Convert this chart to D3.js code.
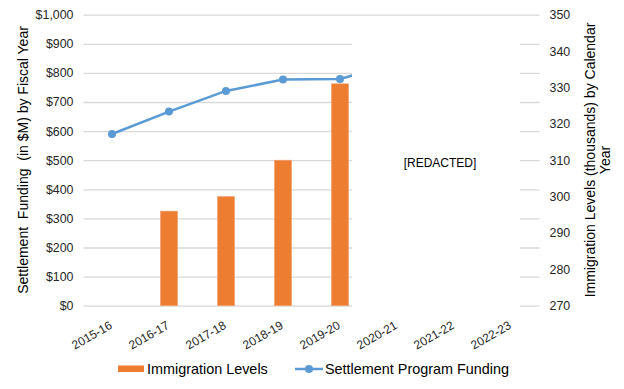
<!DOCTYPE html>
<html>
<head>
<meta charset="utf-8">
<script src="https://cdn.jsdelivr.net/npm/d3@7"></script>
<style>
  html, body { margin: 0; padding: 0; background: #fff; }
  svg { display: block; font-family: "Liberation Sans", Arial, sans-serif; }
</style>
</head>
<body>
<svg id="chart" width="624" height="389"></svg>
<script>
// ---- Data ----
const categories = ["2015-16", "2016-17", "2017-18", "2018-19", "2019-20", "2020-21", "2021-22", "2022-23"];
const immigrationLevels = [null, 296, 300, 310, 331, null, null, null];   // thousands (right axis)
const settlementFunding = [590, 667, 738, 777, 779, 835, null, null];     // $M (left axis)
const leftTicks = [0, 100, 200, 300, 400, 500, 600, 700, 800, 900, 1000];
const rightTicks = [270, 280, 290, 300, 310, 320, 330, 340, 350];
const seriesNames = ["Immigration Levels", "Settlement Program Funding"];

// ---- Layout ----
const svg = d3.select("#chart");
const plotL = 83.5, plotR = 539.5, plotT = 14.7, plotB = 305.7;
const orange = "#ED7D31", blue = "#5B9BD5", textColor = "#262626", gridColor = "#D9D9D9";

const x = d3.scaleBand().domain(categories).range([plotL, plotR]).padding(0);
const yL = d3.scaleLinear().domain([0, 1000]).range([plotB, plotT]);
const yR = d3.scaleLinear().domain([270, 350]).range([plotB, plotT]);

// gridlines + left axis
const gL = svg.append("g").attr("transform", `translate(${plotL},0)`)
  .call(d3.axisLeft(yL).tickValues(leftTicks).tickFormat(d3.format("$,")).tickSize(-(plotR - plotL)).tickPadding(10));
gL.select(".domain").remove();
gL.selectAll(".tick line").attr("stroke", gridColor).attr("stroke-width", 1.3);
gL.selectAll(".tick text").attr("fill", textColor).style("font-size", "12.4px");

// right axis
const gR = svg.append("g").attr("transform", `translate(${plotR},0)`)
  .call(d3.axisRight(yR).tickValues(rightTicks).tickSize(0).tickPadding(10));
gR.select(".domain").remove();
gR.selectAll(".tick text").attr("fill", textColor).style("font-size", "12.4px");

// x axis labels
const gX = svg.append("g").attr("transform", `translate(0,${plotB})`)
  .call(d3.axisBottom(x).tickSize(0).tickPadding(0));
gX.select(".domain").remove();
gX.selectAll(".tick text")
  .attr("fill", textColor).style("font-size", "12px")
  .attr("text-anchor", "end")
  .attr("dy", null)
  .attr("transform", "translate(1,22) rotate(-30)");

// bars
const barW = x.bandwidth() * 0.3;
svg.append("g").selectAll("rect")
  .data(categories.map((c, i) => ({ c, v: immigrationLevels[i] })).filter(d => d.v != null))
  .join("rect")
  .attr("x", d => x(d.c) + x.bandwidth() / 2 - barW / 2)
  .attr("width", barW)
  .attr("y", d => yR(d.v))
  .attr("height", d => plotB - yR(d.v))
  .attr("fill", orange)
  .attr("stroke", "#F4A070").attr("stroke-width", 0.6);

// line
const lineData = categories.map((c, i) => ({ c, v: settlementFunding[i] })).filter(d => d.v != null);
svg.append("path")
  .datum(lineData)
  .attr("fill", "none").attr("stroke", blue).attr("stroke-width", 2.5)
  .attr("d", d3.line().x(d => x(d.c) + x.bandwidth() / 2).y(d => yL(d.v)));
svg.append("g").selectAll("circle")
  .data(lineData).join("circle")
  .attr("cx", d => x(d.c) + x.bandwidth() / 2)
  .attr("cy", d => yL(d.v))
  .attr("r", 4).attr("fill", blue);

// redaction box
svg.append("rect").attr("x", 352).attr("y", 16.5).attr("width", 168).attr("height", 292).attr("fill", "#fff");
svg.append("text").attr("x", 440).attr("y", 167).attr("text-anchor", "middle")
  .style("font-size", "12px").attr("fill", "#000").text("[REDACTED]");

// axis titles
svg.append("text")
  .attr("transform", `translate(28,160) rotate(-90)`)
  .attr("text-anchor", "middle").style("font-size", "14px").attr("fill", "#000")
  .attr("xml:space", "preserve")
  .text("Settlement  Funding  (in $M) by Fiscal Year");
const rt = svg.append("text")
  .attr("transform", `translate(595,160) rotate(-90)`)
  .attr("text-anchor", "middle").style("font-size", "14px").attr("fill", "#000");
rt.append("tspan").attr("x", 0).attr("dy", 0).text("Immigration Levels (thousands) by Calendar");
rt.append("tspan").attr("x", 0).attr("dy", 15).text("Year");

// legend
const lg = svg.append("g");
lg.append("rect").attr("x", 118).attr("y", 365.5).attr("width", 26).attr("height", 6.5).attr("fill", orange);
lg.append("text").attr("x", 147).attr("y", 374).style("font-size", "14.4px").attr("fill", "#000").text(seriesNames[0]);
lg.append("line").attr("x1", 295).attr("x2", 323).attr("y1", 369).attr("y2", 369)
  .attr("stroke", blue).attr("stroke-width", 2.5);
lg.append("circle").attr("cx", 309).attr("cy", 369).attr("r", 4).attr("fill", blue);
lg.append("text").attr("x", 325).attr("y", 374).style("font-size", "14.4px").attr("fill", "#000").text(seriesNames[1]);
</script>
</body>
</html>
